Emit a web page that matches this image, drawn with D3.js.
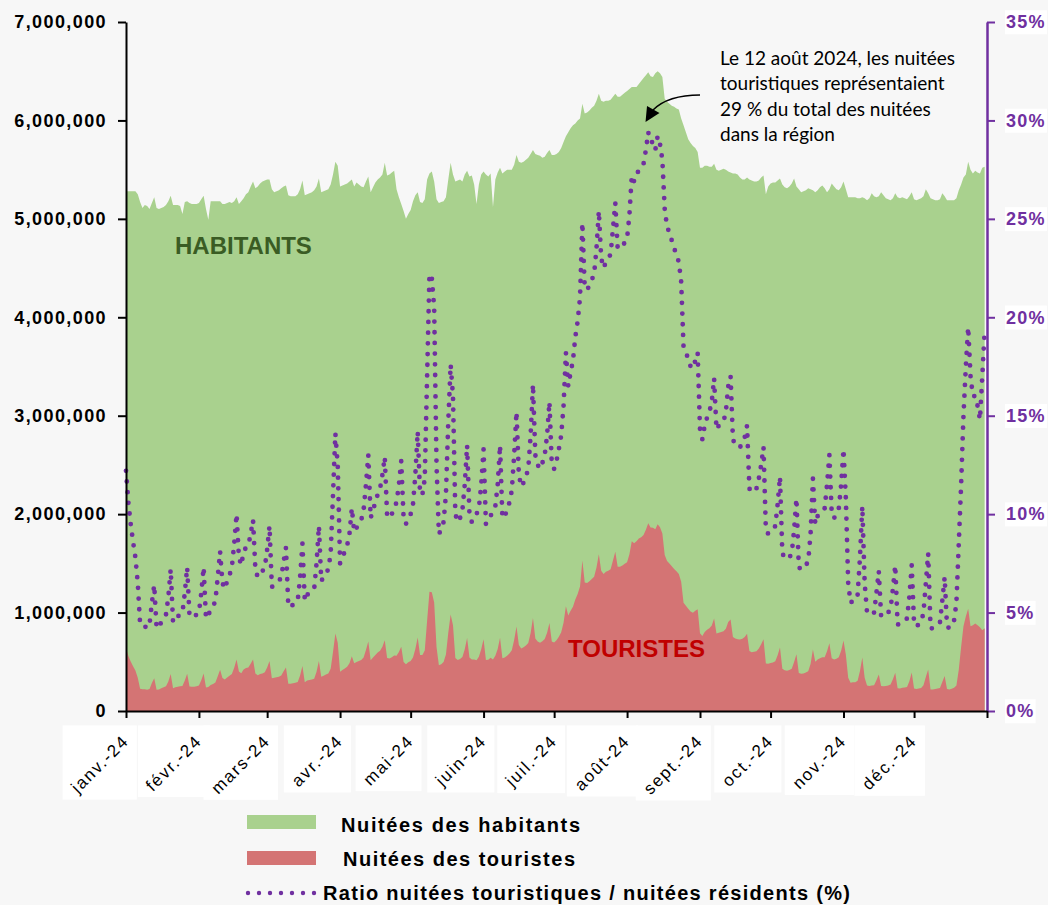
<!DOCTYPE html>
<html lang="fr">
<head>
<meta charset="utf-8">
<script src="https://d3js.org/d3.v7.min.js"></script>
<style>
  body { margin: 0; background: #f7f7f7; }
  svg { display: block; }
</style>
</head>
<body>
<svg id="chart" width="1048" height="905"></svg>
<script>
// nuitées quotidiennes 2024, en milliers - une ligne par semaine (lundi -> dimanche)
const habitants = [
  5280, 5280, 5280, 5280, 5280, 5250, 5170,
  5110, 5140, 5130, 5100, 5160, 5220, 5110,
  5100, 5110, 5120, 5140, 5180, 5235, 5140,
  5140, 5140, 5130, 5050, 5170, 5180, 5160,
  5150, 5150, 5150, 5160, 5200, 5235, 5100,
  4990, 5180, 5180, 5180, 5180, 5180, 5150,
  5150, 5160, 5170, 5160, 5180, 5220, 5150,
  5180, 5210, 5250, 5270, 5330, 5380, 5310,
  5330, 5360, 5380, 5390, 5400, 5400, 5300,
  5270, 5280, 5290, 5310, 5330, 5340, 5240,
  5230, 5230, 5230, 5250, 5300, 5390, 5240,
  5250, 5260, 5270, 5290, 5330, 5410, 5270,
  5280, 5290, 5300, 5350, 5450, 5580, 5540,
  5330, 5340, 5350, 5360, 5380, 5400, 5330,
  5370, 5350, 5330, 5320, 5380, 5430, 5270,
  5320, 5370, 5400, 5420, 5450, 5570, 5440,
  5450, 5470, 5490, 5300, 5220, 5150, 5080,
  5000, 5050, 5090, 5180, 5240, 5270, 5170,
  5160, 5200, 5400, 5460, 5480, 5380, 5200,
  5160, 5170, 5180, 5220, 5400, 5570, 5450,
  5380, 5390, 5400, 5380, 5450, 5490, 5430,
  5440, 5350, 5150, 5350, 5450, 5480, 5450,
  5430, 5460, 5120, 5400, 5470, 5520, 5460,
  5480, 5500, 5500, 5500, 5550, 5650, 5580,
  5570, 5580, 5600, 5620, 5660, 5700, 5660,
  5650, 5640, 5620, 5630, 5670, 5700, 5650,
  5650, 5660, 5680, 5720, 5780, 5840, 5880,
  5920, 5950, 5970, 6000, 6020, 6170, 6070,
  6080, 6100, 6130, 6150, 6200, 6270, 6200,
  6190, 6200, 6200, 6210, 6240, 6270, 6240,
  6240, 6260, 6280, 6300, 6320, 6340, 6340,
  6340, 6370, 6400, 6430, 6460, 6490, 6450,
  6440, 6480, 6500, 6480, 6440, 6220, 6190,
  6170, 6150, 6140, 6120, 6110, 6020, 5950,
  5880, 5810, 5770, 5740, 5720, 5680, 5520,
  5520, 5540, 5540, 5530, 5530, 5560, 5500,
  5490, 5500, 5510, 5500, 5480, 5470, 5460,
  5460, 5450, 5420, 5400, 5400, 5420, 5400,
  5390, 5380, 5380, 5390, 5420, 5440, 5250,
  5330, 5360, 5370, 5370, 5390, 5410, 5350,
  5320, 5310, 5330, 5360, 5410, 5330, 5300,
  5270, 5280, 5290, 5310, 5300, 5290, 5270,
  5290, 5320, 5340, 5310, 5270, 5300, 5360,
  5330, 5300, 5290, 5320, 5380, 5300, 5220,
  5220, 5220, 5220, 5210, 5210, 5220, 5210,
  5190, 5210, 5260, 5230, 5220, 5230, 5270,
  5240, 5210, 5200, 5190, 5210, 5260, 5220,
  5210, 5220, 5210, 5200, 5230, 5270, 5200,
  5190, 5200, 5210, 5230, 5300, 5260, 5210,
  5200, 5190, 5190, 5200, 5260, 5230, 5190,
  5190, 5190, 5190, 5210, 5290, 5350, 5420,
  5450, 5580, 5500, 5460, 5490, 5470, 5460,
  5520, 5530
];

const touristes = [
  644, 560, 502, 454, 411, 338, 225,
  220, 221, 215, 224, 284, 334, 215,
  219, 230, 241, 252, 300, 377, 231,
  242, 247, 251, 253, 310, 378, 248,
  247, 247, 252, 258, 312, 382, 240,
  245, 264, 275, 290, 352, 420, 335,
  319, 341, 357, 377, 440, 522, 402,
  383, 422, 436, 443, 480, 522, 382,
  362, 375, 382, 393, 443, 508, 334,
  337, 343, 349, 361, 405, 443, 278,
  277, 282, 288, 294, 360, 458, 293,
  310, 316, 321, 328, 400, 509, 348,
  359, 370, 382, 428, 600, 787, 693,
  400, 417, 433, 450, 484, 556, 485,
  499, 508, 517, 543, 619, 706, 516,
  543, 569, 594, 612, 654, 719, 539,
  534, 547, 565, 562, 600, 654, 498,
  475, 495, 509, 544, 629, 748, 569,
  568, 614, 918, 1212, 1206, 1103, 650,
  464, 476, 497, 574, 794, 980, 872,
  538, 517, 529, 549, 627, 741, 543,
  522, 524, 515, 551, 627, 729, 518,
  521, 541, 522, 562, 629, 745, 535,
  543, 561, 583, 616, 722, 859, 670,
  635, 647, 666, 691, 792, 946, 736,
  706, 694, 708, 732, 794, 895, 706,
  695, 719, 755, 801, 896, 1063, 970,
  1018, 1059, 1134, 1188, 1264, 1530, 1305,
  1301, 1318, 1342, 1365, 1457, 1593, 1426,
  1393, 1414, 1426, 1441, 1529, 1618, 1466,
  1466, 1477, 1495, 1512, 1592, 1724, 1705,
  1724, 1752, 1766, 1788, 1841, 1908, 1864,
  1861, 1847, 1898, 1866, 1803, 1586, 1523,
  1499, 1470, 1443, 1420, 1393, 1312, 1101,
  1070, 1040, 1010, 999, 1018, 1034, 789,
  762, 803, 825, 841, 868, 940, 787,
  796, 803, 810, 836, 904, 930, 753,
  737, 730, 726, 734, 751, 786, 610,
  598, 603, 608, 636, 678, 729, 483,
  480, 488, 494, 505, 566, 644, 428,
  415, 409, 416, 429, 498, 576, 387,
  379, 380, 391, 404, 477, 624, 501,
  524, 537, 545, 547, 606, 689, 536,
  522, 530, 545, 612, 716, 572, 339,
  287, 292, 292, 307, 406, 543, 339,
  260, 255, 258, 262, 313, 371, 253,
  252, 255, 260, 270, 323, 389, 230,
  229, 235, 240, 244, 303, 390, 229,
  223, 229, 234, 262, 345, 421, 219,
  218, 223, 228, 234, 295, 356, 223,
  218, 225, 235, 260, 420, 650, 860,
  960, 1040, 860, 870, 890, 870, 850,
  820, 840
];

// ratio nuitées touristiques (%)
const ratio = [
  12.2, 10.6, 9.5, 8.6, 7.8, 6.5, 4.4,
  4.3, 4.3, 4.2, 4.4, 5.5, 6.4, 4.2,
  4.3, 4.5, 4.7, 4.9, 5.8, 7.2, 4.5,
  4.7, 4.8, 4.9, 5.0, 6.0, 7.3, 4.8,
  4.8, 4.8, 4.9, 5.0, 6.0, 7.3, 4.7,
  4.9, 5.1, 5.3, 5.6, 6.8, 8.1, 6.5,
  6.2, 6.6, 6.9, 7.3, 8.5, 10.0, 7.8,
  7.4, 8.1, 8.3, 8.4, 9.0, 9.7, 7.2,
  6.8, 7.0, 7.1, 7.3, 8.2, 9.4, 6.3,
  6.4, 6.5, 6.6, 6.8, 7.6, 8.3, 5.3,
  5.3, 5.4, 5.5, 5.6, 6.8, 8.5, 5.6,
  5.9, 6.0, 6.1, 6.2, 7.5, 9.4, 6.6,
  6.8, 7.0, 7.2, 8.0, 11.0, 14.1, 12.5,
  7.5, 7.8, 8.1, 8.4, 9.0, 10.3, 9.1,
  9.3, 9.5, 9.7, 10.2, 11.5, 13.0, 9.8,
  10.2, 10.6, 11.0, 11.3, 12.0, 12.9, 9.9,
  9.8, 10.0, 10.3, 10.6, 11.5, 12.7, 9.8,
  9.5, 9.8, 10.0, 10.5, 12.0, 14.2, 11.0,
  11.0, 11.8, 17.0, 22.2, 22.0, 20.5, 12.5,
  9.0, 9.2, 9.6, 11.0, 14.7, 17.6, 16.0,
  10.0, 9.6, 9.8, 10.2, 11.5, 13.5, 10.0,
  9.6, 9.8, 10.0, 10.3, 11.5, 13.3, 9.5,
  9.6, 9.9, 10.2, 10.4, 11.5, 13.5, 9.8,
  9.9, 10.2, 10.6, 11.2, 13.0, 15.2, 12.0,
  11.4, 11.6, 11.9, 12.3, 14.0, 16.6, 13.0,
  12.5, 12.3, 12.6, 13.0, 14.0, 15.7, 12.5,
  12.3, 12.7, 13.3, 14.0, 15.5, 18.2, 16.5,
  17.2, 17.8, 19.0, 19.8, 21.0, 24.8, 21.5,
  21.4, 21.6, 21.9, 22.2, 23.5, 25.4, 23.0,
  22.5, 22.8, 23.0, 23.2, 24.5, 25.8, 23.5,
  23.5, 23.6, 23.8, 24.0, 25.2, 27.2, 26.9,
  27.2, 27.5, 27.6, 27.8, 28.5, 29.4, 28.9,
  28.9, 28.5, 29.2, 28.8, 28.0, 25.5, 24.6,
  24.3, 23.9, 23.5, 23.2, 22.8, 21.8, 18.5,
  18.2, 17.9, 17.5, 17.4, 17.8, 18.2, 14.3,
  13.8, 14.5, 14.9, 15.2, 15.7, 16.9, 14.3,
  14.5, 14.6, 14.7, 15.2, 16.5, 17.0, 13.8,
  13.5, 13.4, 13.4, 13.6, 13.9, 14.5, 11.3,
  11.1, 11.2, 11.3, 11.8, 12.5, 13.4, 9.2,
  9.0, 9.1, 9.2, 9.4, 10.5, 11.9, 8.0,
  7.8, 7.7, 7.8, 8.0, 9.2, 10.8, 7.3,
  7.2, 7.2, 7.4, 7.6, 9.0, 11.8, 9.5,
  9.9, 10.1, 10.2, 10.3, 11.5, 13.0, 10.0,
  9.8, 10.0, 10.3, 11.5, 13.3, 10.8, 6.5,
  5.5, 5.6, 5.6, 5.9, 7.8, 10.4, 6.5,
  5.0, 4.9, 4.9, 5.0, 6.0, 7.1, 4.8,
  4.8, 4.9, 5.0, 5.2, 6.2, 7.4, 4.4,
  4.4, 4.5, 4.6, 4.7, 5.8, 7.4, 4.4,
  4.3, 4.4, 4.5, 5.0, 6.5, 8.0, 4.2,
  4.2, 4.3, 4.4, 4.5, 5.6, 6.8, 4.3,
  4.2, 4.4, 4.6, 5.5, 8.5, 11.5, 15.0,
  17.5, 19.5, 17.0, 16.0, 16.0, 15.5, 14.8,
  17.0, 19.3
];

const mois = ["janv.-24", "févr.-24", "mars-24", "avr.-24", "mai-24", "juin-24",
              "juil.-24", "août-24", "sept.-24", "oct.-24", "nov.-24", "déc.-24"];
const ticksNuitees = [0, 1000000, 2000000, 3000000, 4000000, 5000000, 6000000, 7000000];
const ticksRatio = [0, 5, 10, 15, 20, 25, 30, 35];
const annotation = ["Le 12 août 2024, les nuitées", "touristiques représentaient",
                    "29 % du total des nuitées", "dans la région"];
const legende = ["Nuitées des habitants", "Nuitées des touristes",
                 "Ratio nuitées touristiques / nuitées résidents (%)"];

const police = "'Liberation Sans', Arial, sans-serif";
const violet = "#7030a0";

const svg = d3.select("#chart");

const debut = new Date(Date.UTC(2024, 0, 1));
const fin = new Date(Date.UTC(2025, 0, 1));
const jours = d3.utcDay.range(debut, fin);

const x = d3.scaleUtc().domain([debut, fin]).range([126, 987]);
const y = d3.scaleLinear().domain([0, 7000000]).range([711, 22]);
const yRatio = d3.scaleLinear().domain([0, 35]).range([711, 22]);

// aires : habitants puis touristes par-dessus
const aire = d3.area()
    .x((d, i) => x(jours[i]))
    .y0(y(0))
    .y1(d => y(d * 1000));

svg.append("path").datum(habitants).attr("fill", "#a9d18e").attr("d", aire);
svg.append("path").datum(touristes).attr("fill", "#d47474").attr("d", aire);

// étiquettes dans les aires
svg.append("text").attr("x", 175).attr("y", 254)
    .attr("font-family", police).attr("font-weight", "bold").attr("font-size", 24)
    .attr("fill", "#3a5c24").text("HABITANTS");
svg.append("text").attr("x", 568).attr("y", 657)
    .attr("font-family", police).attr("font-weight", "bold").attr("font-size", 24)
    .attr("fill", "#c00000").text("TOURISTES");

// ratio en pointillés
const ligne = d3.line()
    .x((d, i) => x(jours[i]))
    .y(d => yRatio(d));

svg.append("path").datum(ratio)
    .attr("fill", "none")
    .attr("stroke", violet)
    .attr("stroke-width", 4.8)
    .attr("stroke-linecap", "round")
    .attr("stroke-dasharray", "0 10.7")
    .attr("d", ligne);

// axe gauche
const axeG = svg.append("g")
    .attr("transform", "translate(126,0)")
    .call(d3.axisLeft(y).tickValues(ticksNuitees).tickFormat(d3.format(","))
        .tickSize(8).tickSizeOuter(0).tickPadding(11));
axeG.attr("font-family", police);
axeG.select(".domain").attr("stroke", "#000").attr("stroke-width", 2);
axeG.selectAll(".tick line").attr("stroke", "#000").attr("stroke-width", 2);
axeG.selectAll(".tick text")
    .attr("font-size", 18).attr("font-weight", "bold").attr("fill", "#000")
    .style("letter-spacing", "1.4px");

// axe droit
const axeD = svg.append("g")
    .attr("transform", "translate(987,0)")
    .call(d3.axisRight(yRatio).tickValues(ticksRatio).tickFormat(d => d + "%")
        .tickSize(8).tickSizeOuter(0).tickPadding(11));
axeD.attr("font-family", police);
axeD.select(".domain").attr("stroke", violet).attr("stroke-width", 2.5);
axeD.selectAll(".tick line").attr("stroke", violet).attr("stroke-width", 2);
axeD.selectAll(".tick text")
    .attr("font-size", 18).attr("font-weight", "bold").attr("fill", violet)
    .style("letter-spacing", "1.3px");
axeD.selectAll(".tick").each(function () {
    const t = d3.select(this).select("text");
    const b = t.node().getBBox();
    d3.select(this).insert("rect", "text")
        .attr("x", b.x - 1).attr("y", b.y - 2)
        .attr("width", b.width + 2).attr("height", b.height + 4)
        .attr("fill", "#fff");
});

// axe du temps
const debutsMois = d3.utcMonth.range(debut, d3.utcDay.offset(fin, 1));
const axeX = svg.append("g")
    .attr("transform", "translate(0,711)")
    .call(d3.axisBottom(x).tickValues(debutsMois).tickFormat("")
        .tickSize(7).tickSizeOuter(0));
axeX.select(".domain").attr("stroke", "#000").attr("stroke-width", 2);
axeX.selectAll(".tick line").attr("stroke", "#000").attr("stroke-width", 2);

const fonds = svg.append("g");
const etiquettes = svg.append("g")
    .selectAll("text")
    .data(mois)
    .join("text")
    .attr("transform", (d, i) => `translate(${x(debutsMois[i]) + 4},742) rotate(-45)`)
    .attr("text-anchor", "end")
    .attr("font-family", police)
    .attr("font-size", 17)
    .style("letter-spacing", "1.8px")
    .attr("fill", "#000")
    .text(d => d);

const svgBox = svg.node().getBoundingClientRect();
etiquettes.each(function () {
    const b = this.getBoundingClientRect();
    fonds.append("rect")
        .attr("x", b.left - svgBox.left - 4)
        .attr("y", b.top - svgBox.top - 6)
        .attr("width", b.width + 8)
        .attr("height", b.height + 8)
        .attr("fill", "#fff");
});

// annotation du 12 août
svg.append("g")
    .selectAll("text")
    .data(annotation)
    .join("text")
    .attr("x", 720)
    .attr("y", (d, i) => 65 + i * 25.3)
    .attr("font-family", "Lato, 'Open Sans', sans-serif")
    .attr("font-size", 19)
    .attr("fill", "#000")
    .text(d => d);

svg.append("path")
    .attr("d", "M700,95 Q668,95 653,110")
    .attr("fill", "none").attr("stroke", "#000").attr("stroke-width", 1.5);
svg.append("polygon")
    .attr("points", "645.5,122 647,106 659.5,113")
    .attr("fill", "#000");

// légende
svg.append("rect").attr("x", 247).attr("y", 815).attr("width", 69).attr("height", 14).attr("fill", "#a9d18e");
svg.append("rect").attr("x", 247).attr("y", 851).attr("width", 69).attr("height", 14).attr("fill", "#d47474");
svg.append("line").attr("x1", 248).attr("x2", 316).attr("y1", 893).attr("y2", 893)
    .attr("stroke", violet).attr("stroke-width", 4.4)
    .attr("stroke-linecap", "round").attr("stroke-dasharray", "0 11");

const posLegende = [[341, 832, 239], [343, 866, 232], [323, 900, 527]];
svg.append("g")
    .selectAll("text")
    .data(legende)
    .join("text")
    .attr("x", (d, i) => posLegende[i][0])
    .attr("y", (d, i) => posLegende[i][1])
    .attr("textLength", (d, i) => posLegende[i][2])
    .attr("lengthAdjust", "spacing")
    .attr("font-family", police)
    .attr("font-weight", "bold")
    .attr("font-size", 20)
    .attr("fill", "#000")
    .text(d => d);
</script>
</body>
</html>
